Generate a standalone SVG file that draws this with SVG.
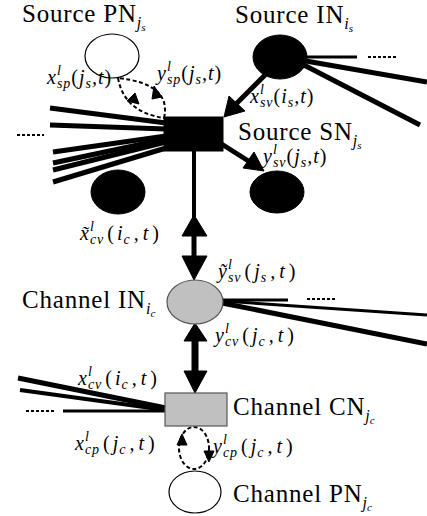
<svg xmlns="http://www.w3.org/2000/svg" width="427" height="516" viewBox="0 0 427 516">
<style>
.t{font-family:"Liberation Serif","Times New Roman",serif;font-size:25px;letter-spacing:0.8px;fill:#000}
.m{font-family:"Liberation Serif","Times New Roman",serif;font-style:italic;font-size:20px;letter-spacing:1px;fill:#000}
.s{font-size:14px}
.si{font-style:italic;font-size:16px;letter-spacing:0}
.ss{font-style:italic;font-size:11px}
.up{font-style:normal}
.thick{stroke:#000;stroke-width:5;fill:none}
.thin{stroke:#000;stroke-width:3;fill:none}
.dash{stroke:#000;stroke-width:2;stroke-dasharray:4 2.5;fill:none}
.dots{stroke:#000;stroke-width:2;stroke-dasharray:3 2;fill:none}
.blk{fill:#000;stroke:#000}
.wht{fill:#fff;stroke:#000;stroke-width:1.2}
.gry{fill:#c0c0c0;stroke:#555;stroke-width:1.2}
</style>

<g id="connectors">
  <!-- Source IN outgoing -->
  <line class="thin" x1="300" y1="57" x2="357" y2="57"/>
  <line class="dots" x1="368" y1="57" x2="398" y2="57"/>
  <line class="thick" x1="300" y1="60" x2="427" y2="82"/>
  <line class="thick" x1="300" y1="63" x2="420" y2="125"/>
  <!-- Source IN -> Source SN -->
  <line class="thick" x1="266" y1="74" x2="235" y2="105"/>
  <polygon class="blk" points="224,117 229,96 245,111"/>
  <!-- Source SN -> right black node -->
  <line class="thick" x1="220" y1="143" x2="250" y2="162"/>
  <polygon class="blk" points="264,171 243,168 254,152"/>
  <!-- Source SN fan of lines to the left -->
  <line class="thick" x1="50" y1="108" x2="166" y2="123"/>
  <line class="thick" x1="50" y1="125" x2="166" y2="129"/>
  <line class="thick" x1="53" y1="152" x2="166" y2="136"/>
  <line class="thick" x1="53" y1="163" x2="166" y2="139"/>
  <line class="thick" x1="53" y1="170" x2="166" y2="142"/>
  <line class="thick" x1="53" y1="182" x2="166" y2="148"/>
  <line class="dots" x1="17" y1="135" x2="44" y2="135"/>
  <!-- Source PN <-> Source SN dashed loop -->
  <path class="dash" d="M118,78 Q124,112 164,118"/>
  <path class="dash" d="M164,118 Q172,84 118,78"/>
  <polygon class="blk" points="139,104 127,101 135,93"/>
  <polygon class="blk" points="154,86 152,99 162,97"/>
  <!-- Source SN <-> Channel IN -->
  <line stroke="#000" stroke-width="4" x1="194" y1="150" x2="194" y2="236"/>
  <line stroke="#000" stroke-width="5" x1="194" y1="234" x2="194" y2="260"/>
  <polygon class="blk" points="194,215 182,236 207,236"/>
  <polygon class="blk" points="194,280 182,256 207,256"/>
  <!-- Channel IN outgoing -->
  <line class="thin" x1="222" y1="300" x2="288" y2="300"/>
  <line class="dots" x1="307" y1="299" x2="336" y2="299"/>
  <line class="thin" x1="222" y1="301" x2="427" y2="315"/>
  <line class="thick" x1="222" y1="303" x2="427" y2="344"/>
  <!-- Channel IN <-> Channel CN -->
  <line stroke="#000" stroke-width="7" x1="195" y1="336" x2="195" y2="374"/>
  <polygon class="blk" points="195,323 184,341 207,341"/>
  <polygon class="blk" points="195,393 184,371 207,371"/>
  <!-- Channel CN fan of lines to the left -->
  <line class="thick" x1="18" y1="378" x2="166" y2="408"/>
  <line stroke="#000" stroke-width="4" x1="20" y1="390" x2="166" y2="410"/>
  <line class="thin" x1="63" y1="411" x2="166" y2="411"/>
  <line class="dots" x1="26" y1="411" x2="55" y2="411"/>
  <!-- Channel CN <-> Channel PN dashed loop -->
  <ellipse class="dash" cx="194" cy="448" rx="15" ry="21"/>
  <polygon class="blk" points="182,434 177,445 187,445"/>
  <polygon class="blk" points="209,462 204,451 214,451"/>
</g>

<g id="source-pn">
  <ellipse class="wht" cx="112" cy="56" rx="27" ry="22"/>
  <text class="t" x="22" y="22">Source PN<tspan class="si" dy="6">j</tspan><tspan class="ss" dy="3">s</tspan></text>
</g>
<g id="source-in">
  <ellipse class="blk" cx="280" cy="57" rx="27" ry="22"/>
  <text class="t" x="235" y="23">Source IN<tspan class="si" dy="6">i</tspan><tspan class="ss" dy="3">s</tspan></text>
</g>
<g id="source-sn">
  <rect class="blk" x="164" y="117" width="59" height="34"/>
  <text class="t" x="238" y="140">Source SN<tspan class="si" dy="6">j</tspan><tspan class="ss" dy="3">s</tspan></text>
</g>
<g id="source-vn-right">
  <ellipse class="blk" cx="277" cy="192" rx="27" ry="21"/>
</g>
<g id="source-vn-left">
  <ellipse class="blk" cx="118" cy="192" rx="27" ry="22"/>
</g>
<g id="channel-in">
  <ellipse class="gry" cx="195" cy="302" rx="28" ry="22"/>
  <text class="t" x="22" y="308">Channel IN<tspan class="si" dy="6">i</tspan><tspan class="ss" dy="3">c</tspan></text>
</g>
<g id="channel-cn">
  <rect class="gry" x="165" y="393" width="62" height="33"/>
  <text class="t" x="233" y="415">Channel CN<tspan class="si" dy="6">j</tspan><tspan class="ss" dy="3">c</tspan></text>
</g>
<g id="channel-pn">
  <ellipse class="wht" cx="195" cy="492" rx="26" ry="21"/>
  <text class="t" x="233" y="502">Channel PN<tspan class="si" dy="6">j</tspan><tspan class="ss" dy="3">c</tspan></text>
</g>

<g id="labels">
  <text class="m" x="47" y="84">x<tspan class="s" dy="-9">l</tspan><tspan class="s" dx="-4.9" dy="13">sp</tspan><tspan class="up" dy="-4">(</tspan>j<tspan class="s" dy="4">s</tspan><tspan dy="-4">,t</tspan><tspan class="up">)</tspan></text>
  <text class="m" x="157" y="80">y<tspan class="s" dy="-9">l</tspan><tspan class="s" dx="-4.9" dy="13">sp</tspan><tspan class="up" dy="-4">(</tspan>j<tspan class="s" dy="4">s</tspan><tspan dy="-4">,t</tspan><tspan class="up">)</tspan></text>
  <text class="m" x="250" y="103">x<tspan class="s" dy="-9">l</tspan><tspan class="s" dx="-4.9" dy="13">sv</tspan><tspan class="up" dy="-4">(</tspan>i<tspan class="s" dy="4">s</tspan><tspan dy="-4">,t</tspan><tspan class="up">)</tspan></text>
  <text class="m" x="263" y="163">y<tspan class="s" dy="-9">l</tspan><tspan class="s" dx="-4.9" dy="13">sv</tspan><tspan class="up" dy="-4">(</tspan>j<tspan class="s" dy="4">s</tspan><tspan dy="-4">,t</tspan><tspan class="up">)</tspan></text>
  <text class="m" x="80" y="240">x&#x303;<tspan class="s" dy="-9">l</tspan><tspan class="s" dx="-4.9" dy="13">cv</tspan><tspan class="up" dx="3" dy="-4">(</tspan><tspan dx="2">i</tspan><tspan class="s" dy="4">c</tspan><tspan dx="3" dy="-4">,</tspan><tspan dx="3">t</tspan><tspan class="up" dx="3">)</tspan></text>
  <text class="m" x="218" y="278">y&#x303;<tspan class="s" dy="-9">l</tspan><tspan class="s" dx="-4.9" dy="13">sv</tspan><tspan class="up" dx="3" dy="-4">(</tspan><tspan dx="2">j</tspan><tspan class="s" dy="4">s</tspan><tspan dx="3" dy="-4">,</tspan><tspan dx="3">t</tspan><tspan class="up" dx="3">)</tspan></text>
  <text class="m" x="215" y="342">y<tspan class="s" dy="-9">l</tspan><tspan class="s" dx="-4.9" dy="13">cv</tspan><tspan class="up" dx="3" dy="-4">(</tspan><tspan dx="2">j</tspan><tspan class="s" dy="4">c</tspan><tspan dx="3" dy="-4">,</tspan><tspan dx="3">t</tspan><tspan class="up" dx="3">)</tspan></text>
  <text class="m" x="78" y="385">x<tspan class="s" dy="-9">l</tspan><tspan class="s" dx="-4.9" dy="13">cv</tspan><tspan class="up" dx="3" dy="-4">(</tspan><tspan dx="2">i</tspan><tspan class="s" dy="4">c</tspan><tspan dx="3" dy="-4">,</tspan><tspan dx="3">t</tspan><tspan class="up" dx="3">)</tspan></text>
  <text class="m" x="75" y="450">x<tspan class="s" dy="-9">l</tspan><tspan class="s" dx="-4.9" dy="13">cp</tspan><tspan class="up" dx="3" dy="-4">(</tspan><tspan dx="2">j</tspan><tspan class="s" dy="4">c</tspan><tspan dx="3" dy="-4">,</tspan><tspan dx="3">t</tspan><tspan class="up" dx="3">)</tspan></text>
  <text class="m" x="213" y="453">y<tspan class="s" dy="-9">l</tspan><tspan class="s" dx="-4.9" dy="13">cp</tspan><tspan class="up" dx="3" dy="-4">(</tspan><tspan dx="2">j</tspan><tspan class="s" dy="4">c</tspan><tspan dx="3" dy="-4">,</tspan><tspan dx="3">t</tspan><tspan class="up" dx="3">)</tspan></text>
</g>
</svg>
